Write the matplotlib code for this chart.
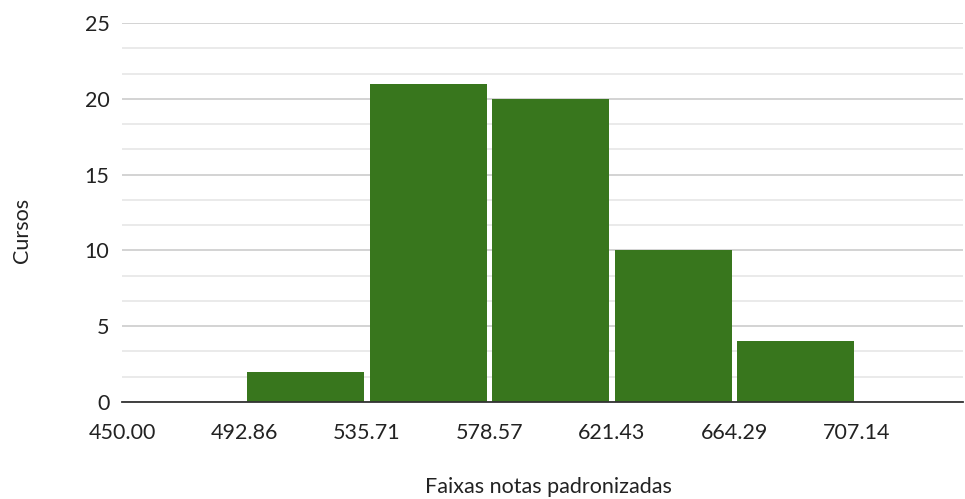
import matplotlib.pyplot as plt
import numpy as np

plt.rcParams['font.family'] = ['Lato', 'DejaVu Sans']

# faixas (limites inferiores) e contagens
bin_starts = [450.00, 492.86, 535.71, 578.57, 621.43, 664.29, 707.14]
counts = [0, 2, 21, 20, 10, 4, 0]
bin_width = 42.857
tick_labels = ['450.00', '492.86', '535.71', '578.57', '621.43', '664.29', '707.14']

W, H = 965, 499
fig = plt.figure(figsize=(W / 100, H / 100), dpi=100)
ax = fig.add_axes([122 / W, (H - 402) / H, 841 / W, 379 / H])

centers = np.array(bin_starts) + bin_width / 2
ax.bar(centers, counts, width=bin_width * 0.955, color='#38761d', zorder=3)

ax.set_xlim(450, 744.2)
ax.set_ylim(0, 25)
ax.set_xticks(bin_starts)
ax.set_xticklabels(tick_labels)
ax.set_yticks([0, 5, 10, 15, 20, 25])
ax.set_yticks(np.arange(0, 25, 5 / 3), minor=True)

ax.grid(axis='y', which='major', color='#cccccc', linewidth=1.2, zorder=0)
ax.grid(axis='y', which='minor', color='#e6e6e6', linewidth=1.2, zorder=0)
ax.tick_params(axis='both', which='both', length=0, labelsize=15.5, colors='#222222')
ax.tick_params(axis='x', pad=15)
ax.tick_params(axis='y', pad=9)

for s in ['top', 'right', 'left']:
    ax.spines[s].set_visible(False)
ax.spines['bottom'].set_color('#333333')
ax.spines['bottom'].set_linewidth(1.3)
ax.spines['bottom'].set_zorder(4)

fig.text(548 / W, 1 - 487 / H, 'Faixas notas padronizadas', fontsize=15.5,
         color='#222222', ha='center', va='center')
fig.text(22 / W, 1 - 230 / H, 'Cursos', fontsize=15.5, color='#222222',
         ha='center', va='center', rotation=90)

plt.savefig('out.png', dpi=100)
